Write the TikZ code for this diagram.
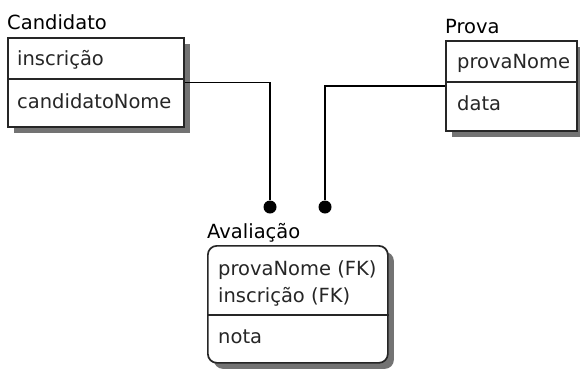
\documentclass[tikz,border=0pt]{standalone}
\usepackage{fontspec}
\setmainfont{DejaVu Sans}
\usetikzlibrary{shadows}

\begin{document}
\begin{tikzpicture}[x=1pt,y=-1pt,
  ent/.style={draw=black!85,line width=1.7pt,fill=white,anchor=north west,inner sep=0pt,
    drop shadow={shadow xshift=6pt,shadow yshift=-6pt,fill=black!55,opacity=1}},
  ttl/.style={anchor=base west,inner sep=0pt,font=\fontsize{19.5}{22}\selectfont},
  attr/.style={anchor=base west,inner sep=0pt,font=\fontsize{19.5}{22}\selectfont,text=black!85},
  sep/.style={line width=1.7pt,draw=black!85},
  rel/.style={line width=1.5pt},
  dot/.style={circle,fill=black,inner sep=0pt,minimum size=13pt}
]
\useasboundingbox (0,0) rectangle (580,370);

% entities
\node[ent,minimum width=176pt,minimum height=89pt] (candidato) at (7,37) {};
\draw[sep] (candidato.west |- 0,79) -- (candidato.east |- 0,79);
\node[ttl] (tCandidato) at (7,29) {Candidato};
\node[attr] (aInscricao) at (17,65) {inscrição};
\node[attr] (aCandNome) at (17,108) {candidatoNome};

\node[ent,minimum width=131pt,minimum height=90pt] (prova) at (445,40) {};
\draw[sep] (prova.west |- 0,82) -- (prova.east |- 0,82);
\node[ttl] (tProva) at (445,33) {Prova};
\node[attr] (aProvaNome) at (457,68) {provaNome};
\node[attr] (aData) at (457,110) {data};

\node[ent,rounded corners=9pt,minimum width=180pt,minimum height=117pt] (avaliacao) at (207,245) {};
\draw[sep] (avaliacao.west |- 0,315) -- (avaliacao.east |- 0,315);
\node[ttl] (tAvaliacao) at (207,238) {Avaliação};
\node[attr] (aFkProva) at (218,275) {provaNome (FK)};
\node[attr] (aFkInsc) at (218,302) {inscrição (FK)};
\node[attr] (aNota) at (218,343) {nota};

% relationships
\node[dot] (dotCand) at (270,207) {};
\node[dot] (dotProva) at (325,207) {};
\draw[rel] (candidato.east) -| (dotCand);
\draw[rel] (prova.west) -| (dotProva);
\end{tikzpicture}
\end{document}
